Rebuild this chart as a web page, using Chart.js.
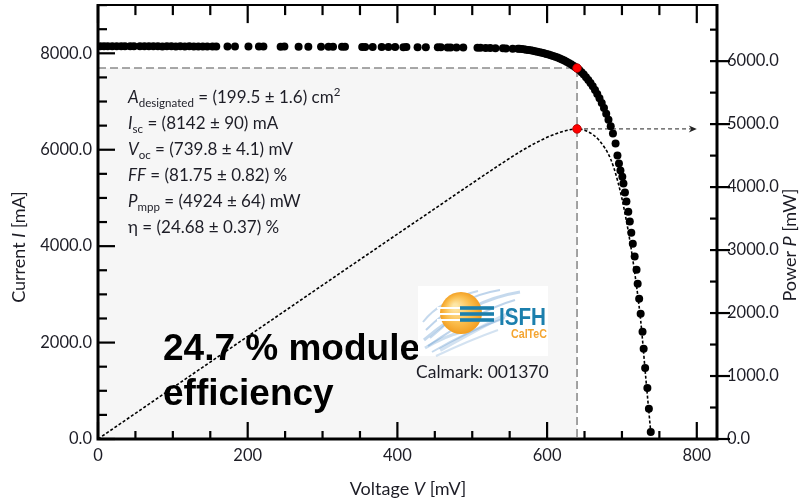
<!DOCTYPE html>
<html>
<head>
<meta charset="utf-8">
<script src="https://cdn.jsdelivr.net/npm/chart.js@4.4.1/dist/chart.umd.min.js"></script>
<style>
  html, body { margin: 0; padding: 0; background: #fff; }
</style>
</head>
<body>
<canvas id="graph" width="802" height="502"></canvas>
<script>
// Curva I-V medida: voltaje en mV, corriente en mA
const voltajeIV = [3, 8, 13, 19, 25, 31, 36, 43, 48, 56, 62, 68, 74, 80, 86, 92, 98, 104, 110, 116,
    122, 128, 134, 140, 146, 153, 158, 173, 183, 201, 215, 221, 244, 249, 268, 281, 298, 308, 314, 326,
    330, 353, 357, 367, 379, 388, 397, 408, 412, 427, 438, 454, 458, 467, 471, 479, 488, 507, 511, 518,
    524, 531, 541, 545, 554, 561,
    563, 566, 569, 572, 575, 578, 581, 584, 587, 590, 593, 596, 599, 602, 605, 608, 611, 614, 617, 620,
    623, 626, 629, 632, 635, 638, 640, 643, 646, 649, 652, 655, 658, 661, 664, 667, 670, 673, 676, 679,
    682, 685, 688,
    691.5, 694, 696, 698, 700.5, 702, 704, 706, 708.5, 710.5, 712.5, 714.5, 717, 719.5, 721, 723, 725,
    727.5, 729, 731, 734, 736, 738.5];
const corrienteIV = [8146, 8147, 8145, 8146, 8147, 8145, 8146, 8144, 8146, 8145, 8144, 8146, 8144, 8145, 8143, 8145, 8144, 8142, 8144, 8143,
    8144, 8142, 8143, 8141, 8143, 8142, 8140, 8141, 8140, 8141, 8139, 8140, 8138, 8139, 8137, 8138, 8136, 8137, 8135, 8134,
    8135, 8133, 8132, 8133, 8131, 8130, 8129, 8128, 8129, 8127, 8126, 8124, 8125, 8123, 8122, 8120, 8119, 8115, 8114, 8112,
    8110, 8107, 8103, 8101, 8097, 8095,
    8093, 8088, 8082, 8076, 8069, 8061, 8052, 8043, 8033, 8022, 8011, 7999, 7987, 7974, 7960, 7945, 7929, 7912, 7893, 7872,
    7849, 7825, 7799, 7772, 7743, 7713, 7694, 7652, 7607, 7558, 7505, 7447, 7384, 7315, 7240, 7158, 7068, 6970, 6864, 6748,
    6622, 6485, 6336,
    6130, 5880, 5715, 5570, 5440, 5300, 5115, 4925, 4715, 4510, 4280, 4050, 3785, 3510, 3220, 2910, 2600,
    2225, 1870, 1475, 1060, 625, 145];

// Curva de potencia (mV, mW)
const voltajeP = [0, 50, 100, 150, 200, 250, 300, 350, 400, 450, 500, 540, 570, 600, 620, 640, 655, 670, 685, 695, 705, 715, 725, 732, 738.5];
const potenciaP = [0, 407, 815, 1222, 1629, 2036, 2443, 2849, 3254, 3658, 4062, 4380, 4605, 4790, 4880, 4924, 4878, 4736, 4443, 4066, 3525, 2810, 1885, 952, 107];

// Punto de máxima potencia
const vMpp = 640;
const iMpp = 7694;
const pMpp = 4924;
const vFlecha = 800;

// Marcas con etiqueta
const ticksV = [0, 200, 400, 600, 800];
const ticksI = [0, 2000, 4000, 6000, 8000];
const ticksP = [0, 1000, 2000, 3000, 4000, 5000, 6000];

const lineasTexto = [
    [['A', 'i'], ['designated', 'sub'], [' = (199.5 ± 1.6) cm', 'n'], ['2', 'sup']],
    [['I', 'i'], ['sc', 'sub'], [' = (8142 ± 90) mA', 'n']],
    [['V', 'i'], ['oc', 'sub'], [' = (739.8 ± 4.1) mV', 'n']],
    [['FF', 'i'], [' = (81.75 ± 0.82) %', 'n']],
    [['P', 'i'], ['mpp', 'sub'], [' = (4924 ± 64) mW', 'n']],
    [['η = (24.68 ± 0.37) %', 'n']],
];
const tituloEficiencia = ['24.7 % module', 'efficiency'];
const textoCalmark = 'Calmark: 001370';

const colorTexto = '#1d1d26';
const fuente = 'Lato';

// Escribe una línea con trozos en cursiva, subíndice o superíndice
const escribir = (ctx, x, y, partes, tam) => {
    partes.forEach(([txt, tipo]) => {
        let dy = 0;
        if (tipo === 'i') ctx.font = `italic ${tam}px ${fuente}`;
        else if (tipo === 'sub') { ctx.font = `${tam * 0.68}px ${fuente}`; dy = 4; }
        else if (tipo === 'sup') { ctx.font = `${tam * 0.68}px ${fuente}`; dy = -7; }
        else ctx.font = `${tam}px ${fuente}`;
        ctx.fillText(txt, x, y + dy);
        x += ctx.measureText(txt).width;
    });
    return x;
};

const anchoPartes = (ctx, partes, tam) => {
    let w = 0;
    partes.forEach(([txt, tipo]) => {
        ctx.font = tipo === 'i' ? `italic ${tam}px ${fuente}` : `${tam}px ${fuente}`;
        w += ctx.measureText(txt).width;
    });
    return w;
};

// Logo de ISFH CalTeC
const dibujarLogo = (ctx) => {
    ctx.save();
    ctx.fillStyle = '#fff';
    ctx.fillRect(418, 286, 130, 70);
    // pinceladas azules de fondo
    const trazos = [
        [424, 340, 470, 300, 520, 292, 0.4, 3],
        [428, 346, 480, 310, 515, 300, 0.45, 2],
        [432, 352, 470, 330, 505, 318, 0.4, 2],
        [426, 330, 460, 296, 500, 290, 0.45, 2],
        [440, 350, 490, 322, 512, 312, 0.3, 4],
        [430, 338, 455, 318, 470, 296, 0.4, 2],
        [436, 356, 470, 340, 498, 330, 0.3, 2],
        [423, 322, 440, 300, 478, 291, 0.4, 2],
        [425, 348, 445, 336, 462, 332, 0.35, 3],
    ];
    trazos.forEach(([x0, y0, cx, cy, x1, y1, a, w]) => {
        ctx.strokeStyle = `rgba(110,160,210,${a})`;
        ctx.lineWidth = w;
        ctx.beginPath();
        ctx.moveTo(x0, y0);
        ctx.quadraticCurveTo(cx, cy, x1, y1);
        ctx.stroke();
    });
    // sol
    const g = ctx.createRadialGradient(455, 306, 2, 461, 313, 22);
    g.addColorStop(0, '#fde7a8');
    g.addColorStop(0.55, '#fbbf4f');
    g.addColorStop(1, '#f29b1c');
    ctx.fillStyle = g;
    ctx.beginPath();
    ctx.arc(461, 313, 21, 0, Math.PI * 2);
    ctx.fill();
    ctx.strokeStyle = '#fff';
    ctx.lineWidth = 2;
    [308, 314, 320].forEach((yy) => {
        ctx.beginPath(); ctx.moveTo(437, yy); ctx.lineTo(461, yy); ctx.stroke();
    });
    ctx.fillStyle = '#1b7fad';
    [308, 314, 320].forEach((yy) => ctx.fillRect(460, yy - 1.8, 34, 3.6));
    ctx.font = 'bold 23px "Liberation Sans"';
    ctx.textBaseline = 'alphabetic';
    ctx.fillText('ISFH', 499, 325, 47);
    ctx.fillStyle = '#f4a531';
    ctx.font = 'bold 13px "Liberation Sans"';
    ctx.fillText('CalTeC', 511, 338, 36);
    ctx.restore();
};

// Marcas de un eje: paso, cada cuánto es mayor y cómo se dibuja cada una
const marcas = (ctx, escala, max, paso, cadaMayor, dibujar) => {
    for (let v = 0; v <= max + 0.001; v += paso) {
        const p = escala.getPixelForValue(v);
        dibujar(p, v % cadaMayor === 0);
    }
};

const decoraciones = {
    id: 'decoraciones',
    beforeDatasetsDraw(chart) {
        const { ctx, chartArea: a, scales: { x, y, y2 } } = chart;
        const xm = x.getPixelForValue(vMpp);
        const ym = y.getPixelForValue(iMpp);
        const yp = y2.getPixelForValue(pMpp);
        ctx.save();
        // rectángulo gris bajo el MPP
        ctx.fillStyle = '#f6f6f6';
        ctx.fillRect(a.left, ym, xm - a.left, a.bottom - ym);
        ctx.strokeStyle = '#8c8c8c';
        ctx.lineWidth = 1.6;
        ctx.setLineDash([8, 4]);
        ctx.beginPath();
        ctx.moveTo(a.left, ym);
        ctx.lineTo(xm, ym);
        ctx.lineTo(xm, a.bottom);
        ctx.stroke();

        // flecha hacia el eje de potencia
        const xf = x.getPixelForValue(vFlecha);
        ctx.strokeStyle = '#222';
        ctx.lineWidth = 1;
        ctx.setLineDash([4, 3]);
        ctx.beginPath();
        ctx.moveTo(xm, yp);
        ctx.lineTo(xf - 2, yp);
        ctx.stroke();
        ctx.setLineDash([]);
        ctx.fillStyle = '#222';
        ctx.beginPath();
        ctx.moveTo(xf, yp);
        ctx.lineTo(xf - 8, yp - 3.5);
        ctx.lineTo(xf - 5.5, yp);
        ctx.lineTo(xf - 8, yp + 3.5);
        ctx.closePath();
        ctx.fill();

        // parámetros de la celda
        ctx.fillStyle = colorTexto;
        ctx.textAlign = 'left';
        ctx.textBaseline = 'alphabetic';
        lineasTexto.forEach((partes, i) => escribir(ctx, 128, 103 + i * 26, partes, 17));

        ctx.fillStyle = '#000';
        ctx.font = 'bold 37px "Liberation Sans"';
        tituloEficiencia.forEach((t, i) => ctx.fillText(t, 163, 360 + i * 45));

        dibujarLogo(ctx);
        ctx.fillStyle = colorTexto;
        ctx.font = `17.5px ${fuente}`;
        ctx.fillText(textoCalmark, 416, 378);
        ctx.restore();
    },
    afterDraw(chart) {
        const { ctx, chartArea: a, scales: { x, y, y2 } } = chart;
        ctx.save();
        ctx.strokeStyle = '#000';
        // marcas izquierda (hacia dentro)
        ctx.lineWidth = 2.2;
        marcas(ctx, y, 9000, 500, 2000, (p, mayor) => {
            ctx.beginPath(); ctx.moveTo(a.left, p); ctx.lineTo(a.left + (mayor ? 17 : 9), p); ctx.stroke();
        });
        // marcas derecha (potencia)
        marcas(ctx, y2, 6500, 500, 1000, (p, mayor) => {
            ctx.beginPath(); ctx.moveTo(a.right - 7, p); ctx.lineTo(a.right + (mayor ? 13 : 0), p); ctx.stroke();
        });
        // marcas abajo y arriba
        marcas(ctx, x, 800, 50, 200, (p, mayor) => {
            ctx.beginPath(); ctx.moveTo(p, a.bottom); ctx.lineTo(p, a.bottom - (mayor ? 17 : 8)); ctx.stroke();
            ctx.beginPath(); ctx.moveTo(p, a.top); ctx.lineTo(p, a.top + (mayor ? 18 : 10)); ctx.stroke();
        });
        // marco
        ctx.lineWidth = 2;
        ctx.beginPath(); ctx.moveTo(a.left, a.top); ctx.lineTo(a.right, a.top); ctx.stroke();
        ctx.lineWidth = 3;
        ctx.beginPath();
        ctx.moveTo(a.left, a.top - 1);
        ctx.lineTo(a.left, a.bottom);
        ctx.lineTo(a.right, a.bottom);
        ctx.lineTo(a.right, a.top - 1);
        ctx.stroke();

        // títulos de los ejes
        ctx.fillStyle = colorTexto;
        ctx.textBaseline = 'middle';
        const titulo = (partes, cx, cy, rot) => {
            ctx.save();
            ctx.translate(cx, cy);
            ctx.rotate(rot);
            const w = anchoPartes(ctx, partes, 18);
            escribir(ctx, -w / 2, 0, partes, 18);
            ctx.restore();
        };
        titulo([['Current ', 'n'], ['I', 'i'], [' [mA]', 'n']], 19, 247, -Math.PI / 2);
        titulo([['Power ', 'n'], ['P', 'i'], [' [mW]', 'n']], 790, 245, -Math.PI / 2);
        titulo([['Voltage ', 'n'], ['V', 'i'], [' [mV]', 'n']], 408, 489, 0);
        ctx.restore();
    },
};

const fuenteTicks = { family: fuente, size: 16.5 };

// Sin relleno extra de Chart.js alrededor del área del gráfico
const sinRelleno = (s) => {
    s.paddingTop = 0;
    s.paddingBottom = 0;
    s.paddingLeft = 0;
    s.paddingRight = 0;
};

const datosIV = voltajeIV.map((v, i) => ({ x: v, y: corrienteIV[i] }));
const datosP = voltajeP.map((v, i) => ({ x: v, y: potenciaP[i] }));

const config = {
    type: 'scatter',
    data: {
        datasets: [
            {
                label: 'MPP I',
                data: [{ x: vMpp, y: iMpp }],
                yAxisID: 'y',
                pointRadius: 4.3,
                backgroundColor: '#ff0000',
                borderColor: '#b00000',
                borderWidth: 0.8,
                order: 0,
            },
            {
                label: 'MPP P',
                data: [{ x: vMpp, y: pMpp }],
                yAxisID: 'y2',
                pointRadius: 4.3,
                backgroundColor: '#ff0000',
                borderColor: '#b00000',
                borderWidth: 0.8,
                order: 0,
            },
            {
                label: 'I',
                data: datosIV,
                yAxisID: 'y',
                pointRadius: 4,
                backgroundColor: '#000',
                borderWidth: 0,
                showLine: false,
                order: 1,
            },
            {
                label: 'P',
                data: datosP,
                yAxisID: 'y2',
                showLine: true,
                pointRadius: 0,
                borderColor: '#000',
                borderWidth: 1.6,
                borderDash: [3, 2],
                cubicInterpolationMode: 'monotone',
                order: 2,
            },
        ],
    },
    options: {
        responsive: false,
        animation: false,
        devicePixelRatio: 1,
        layout: { padding: { top: 5, left: 0, right: 0, bottom: 0 } },
        plugins: { legend: { display: false }, tooltip: { enabled: false } },
        scales: {
            x: {
                type: 'linear',
                min: 0,
                max: 827,
                afterBuildTicks: (s) => { s.ticks = ticksV.map((v) => ({ value: v })); },
                afterFit: (s) => { s.height = 63; sinRelleno(s); },
                grid: { display: false, drawTicks: false },
                border: { display: false },
                ticks: { font: fuenteTicks, color: colorTexto, padding: 7, maxRotation: 0 },
            },
            y: {
                position: 'left',
                min: 0,
                max: 9000,
                afterBuildTicks: (s) => { s.ticks = ticksI.map((v) => ({ value: v })); },
                afterFit: (s) => { s.width = 98; sinRelleno(s); },
                grid: { display: false, drawTicks: false },
                border: { display: false },
                ticks: { font: fuenteTicks, color: colorTexto, padding: 6, callback: (v) => v.toFixed(1) },
            },
            y2: {
                position: 'right',
                min: 0,
                max: 6890,
                afterBuildTicks: (s) => { s.ticks = ticksP.map((v) => ({ value: v })); },
                afterFit: (s) => { s.width = 85; sinRelleno(s); },
                grid: { display: false, drawTicks: false },
                border: { display: false },
                ticks: { font: fuenteTicks, color: colorTexto, padding: 10, callback: (v) => v.toFixed(1) },
            },
        },
    },
    plugins: [decoraciones],
};

new Chart(document.getElementById('graph'), config);
</script>
</body>
</html>
